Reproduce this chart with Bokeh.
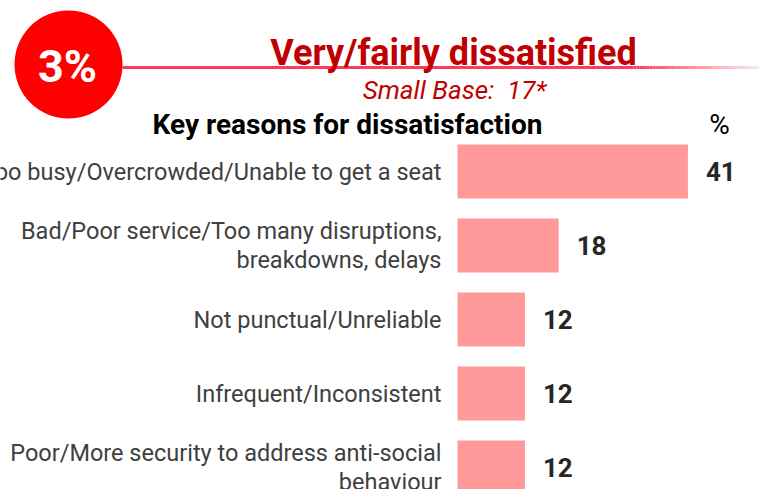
from bokeh.plotting import figure
from bokeh.models import Range1d, ColumnDataSource
from bokeh.core.properties import value
from bokeh.embed import file_html
from bokeh.resources import INLINE

# ---- data ----
categories = [
    "Too busy/Overcrowded/Unable to get a seat",
    "Bad/Poor service/Too many disruptions,\nbreakdowns, delays",
    "Not punctual/Unreliable",
    "Infrequent/Inconsistent",
    "Poor/More security to address anti-social\nbehaviour",
]
values = [41, 18, 12, 12, 12]
headline = "3%"
title_text = "Very/fairly dissatisfied"
base_text = "Small Base:\u00a0\u00a017*"
subtitle_text = "Key reasons for dissatisfaction"
unit_text = "%"

# ---- layout (pixels) ----
W, H = 759, 489
SX = 5.62          # px per percentage point
SY = 74.0          # px per category row
ZERO_PX = 457      # x pixel of value 0
ROW0_PX = 171      # y pixel of first row centre

x_start = -ZERO_PX / SX
x_end = x_start + W / SX
y_top = -ROW0_PX / SY
y_bottom = y_top + H / SY


def px_x(px):
    return x_start + px / SX


def px_y(py):
    return y_top + py / SY


FONT = "Roboto"

p = figure(width=W, height=H, output_backend="svg", toolbar_location=None,
           x_range=Range1d(x_start, x_end), y_range=Range1d(y_bottom, y_top),
           min_border=0, outline_line_color=None, background_fill_color="white")
p.axis.visible = False
p.grid.visible = False

idx = list(range(len(categories)))
src = ColumnDataSource(dict(y=idx, v=values, cat=categories,
                            lab=[str(v) for v in values]))

p.hbar(y="y", left=0, right="v", height=54 / SY, source=src,
       fill_color="#FF999A", line_color=None)

p.text(x=0, y="y", text="cat", source=src, x_offset=-16,
       text_align="right", text_baseline="middle",
       text_font=value(FONT), text_font_size="23.5px", text_color="#404040",
       text_line_height=1.05)

p.text(x="v", y="y", text="lab", source=src, x_offset=18,
       text_align="left", text_baseline="middle",
       text_font=value(FONT), text_font_size="26px", text_font_style="bold",
       text_color="#262626")

# ---- header ----
line_y = px_y(67)
p.segment(x0=[px_x(122)], y0=[line_y], x1=[px_x(633)], y1=[line_y],
          line_color="#FF3B5C", line_width=3)
n = 40
seg_w = (W - 633) / n
xs0 = [px_x(633 + i * seg_w) for i in range(n)]
xs1 = [px_x(633 + (i + 1) * seg_w) for i in range(n)]
alphas = [1 - 0.88 * (i / (n - 1)) for i in range(n)]
p.segment(x0=xs0, y0=[line_y] * n, x1=xs1, y1=[line_y] * n,
          line_color="#FF3B5C", line_width=3, line_alpha=alphas)

p.scatter(x=[px_x(68)], y=[px_y(64)], marker="circle", size=108,
          fill_color="#FF0000", line_color=None)
p.text(x=[px_x(67)], y=[px_y(66)], text=[headline], text_align="center",
       text_baseline="middle", text_font=value(FONT), text_font_size="45px",
       text_font_style="bold", text_color="white")

p.text(x=[px_x(453)], y=[px_y(52)], text=[title_text], text_align="center",
       text_baseline="alphabetic", text_font=value(FONT), text_font_size="36px",
       text_font_style="bold", text_color="#C00000")
p.text(x=[px_x(454)], y=[px_y(89)], text=[base_text], text_align="center",
       text_baseline="alphabetic", text_font=value(FONT), text_font_size="26px",
       text_font_style="italic", text_color="#C00000")
p.text(x=[px_x(347)], y=[px_y(124)], text=[subtitle_text], text_align="center",
       text_baseline="alphabetic", text_font=value(FONT), text_font_size="28px",
       text_font_style="bold", text_color="black")
p.text(x=[px_x(719)], y=[px_y(124)], text=[unit_text], text_align="center",
       text_baseline="alphabetic", text_font=value(FONT), text_font_size="28px",
       text_color="black")

open("out.html", "w").write(file_html(p, INLINE))
